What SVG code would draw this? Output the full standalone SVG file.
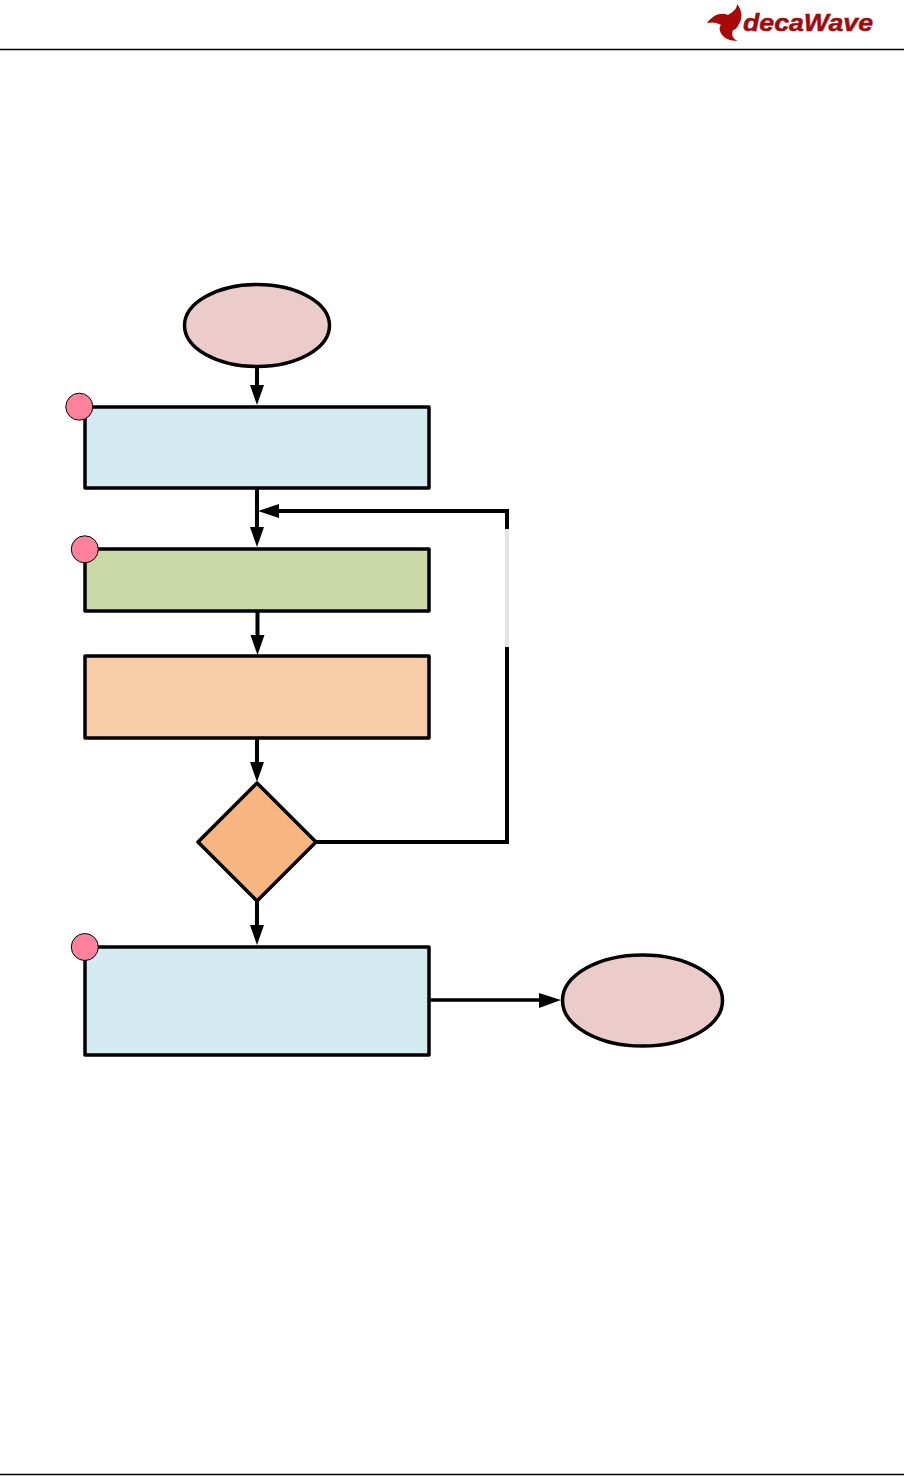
<svg xmlns="http://www.w3.org/2000/svg" width="904" height="1476" viewBox="0 0 904 1476">
<style>
.n{stroke:#000;stroke-width:3.5;stroke-linejoin:round}
.b{fill:#d2eaf0}
.t{fill:#eccccb}
.m{fill:#fe829b;stroke:#000;stroke-width:1}
.c{fill:none;stroke:#000;stroke-width:4}
.h{fill:#000}
.r{stroke:#000;stroke-width:1.5}
</style>
<rect width="904" height="1476" fill="#fff"/>
<g id="page-rules">
<line class="r" x1="0" y1="49.500" x2="904" y2="49.500"/>
<line class="r" x1="0" y1="1474.500" x2="904" y2="1474.500"/>
</g>
<g id="logo">
<path fill="#a80808" d="M707 23C713 15 721 12 728 15C733 12 737 9 737 4C742 10 743 18 739 24C737 28 735 30 733 30C731 35 733 39 738 41C730 41 722 38 720 31C719 28 720 26 721 25C716 22 712 22 707 23Z"/>
<text x="743" y="31" font-family="'Liberation Sans',Arial,sans-serif" font-size="24" font-weight="700" font-style="italic" fill="#9e0b0f" stroke="#9e0b0f" stroke-width="0.500" textLength="130" lengthAdjust="spacingAndGlyphs">decaWave</text>
</g>
<g id="connectors">
<line class="c" x1="257" y1="367" x2="257" y2="386"/>
<polygon class="h" points="250,385 264,385 257,405"/>
<line class="c" x1="257" y1="489" x2="257" y2="528"/>
<polygon class="h" points="250,527 264,527 257,547"/>
<line class="c" x1="257.500" y1="611" x2="257.500" y2="636"/>
<polygon class="h" points="250.500,635 264.500,635 257.500,655"/>
<line class="c" x1="257" y1="738" x2="257" y2="763"/>
<polygon class="h" points="250,762 264,762 257,782"/>
<line class="c" x1="257" y1="900" x2="257" y2="926"/>
<polygon class="h" points="250,925 264,925 257,945"/>
<polyline class="c" points="316,842 507,842 507,647"/>
<line x1="507" y1="647" x2="507" y2="529" stroke="#e4e4e4" stroke-width="4"/>
<polyline class="c" points="507,529 507,511 278,511"/>
<polygon class="h" points="279,504 279,518 258,511"/>
<line class="c" x1="430" y1="1000" x2="540" y2="1000" style="stroke-width:3.500"/>
<polygon class="h" points="539,993 539,1008 561,1000"/>
</g>
<g id="start"><ellipse class="n t" cx="257" cy="325.500" rx="72.500" ry="41"/></g>
<g id="box-1"><rect class="n b" x="85" y="407" width="344" height="81"/></g>
<g id="box-2"><rect class="n" fill="#cbd9a7" x="85" y="549" width="344" height="62"/></g>
<g id="box-3"><rect class="n" fill="#f9cca8" x="85" y="656" width="344" height="82"/></g>
<g id="decision"><polygon class="n" fill="#f7b57f" points="257,783 316,842 257,901 198,842"/></g>
<g id="box-4"><rect class="n b" x="85" y="947" width="344" height="108"/></g>
<g id="end"><ellipse class="n t" cx="642.500" cy="1000.500" rx="80" ry="45.500"/></g>
<g id="marker-1"><circle class="m" cx="79.300" cy="406.700" r="13.500"/></g>
<g id="marker-2"><circle class="m" cx="84.800" cy="549.300" r="13.500"/></g>
<g id="marker-3"><circle class="m" cx="84.800" cy="947" r="13.500"/></g>
</svg>
